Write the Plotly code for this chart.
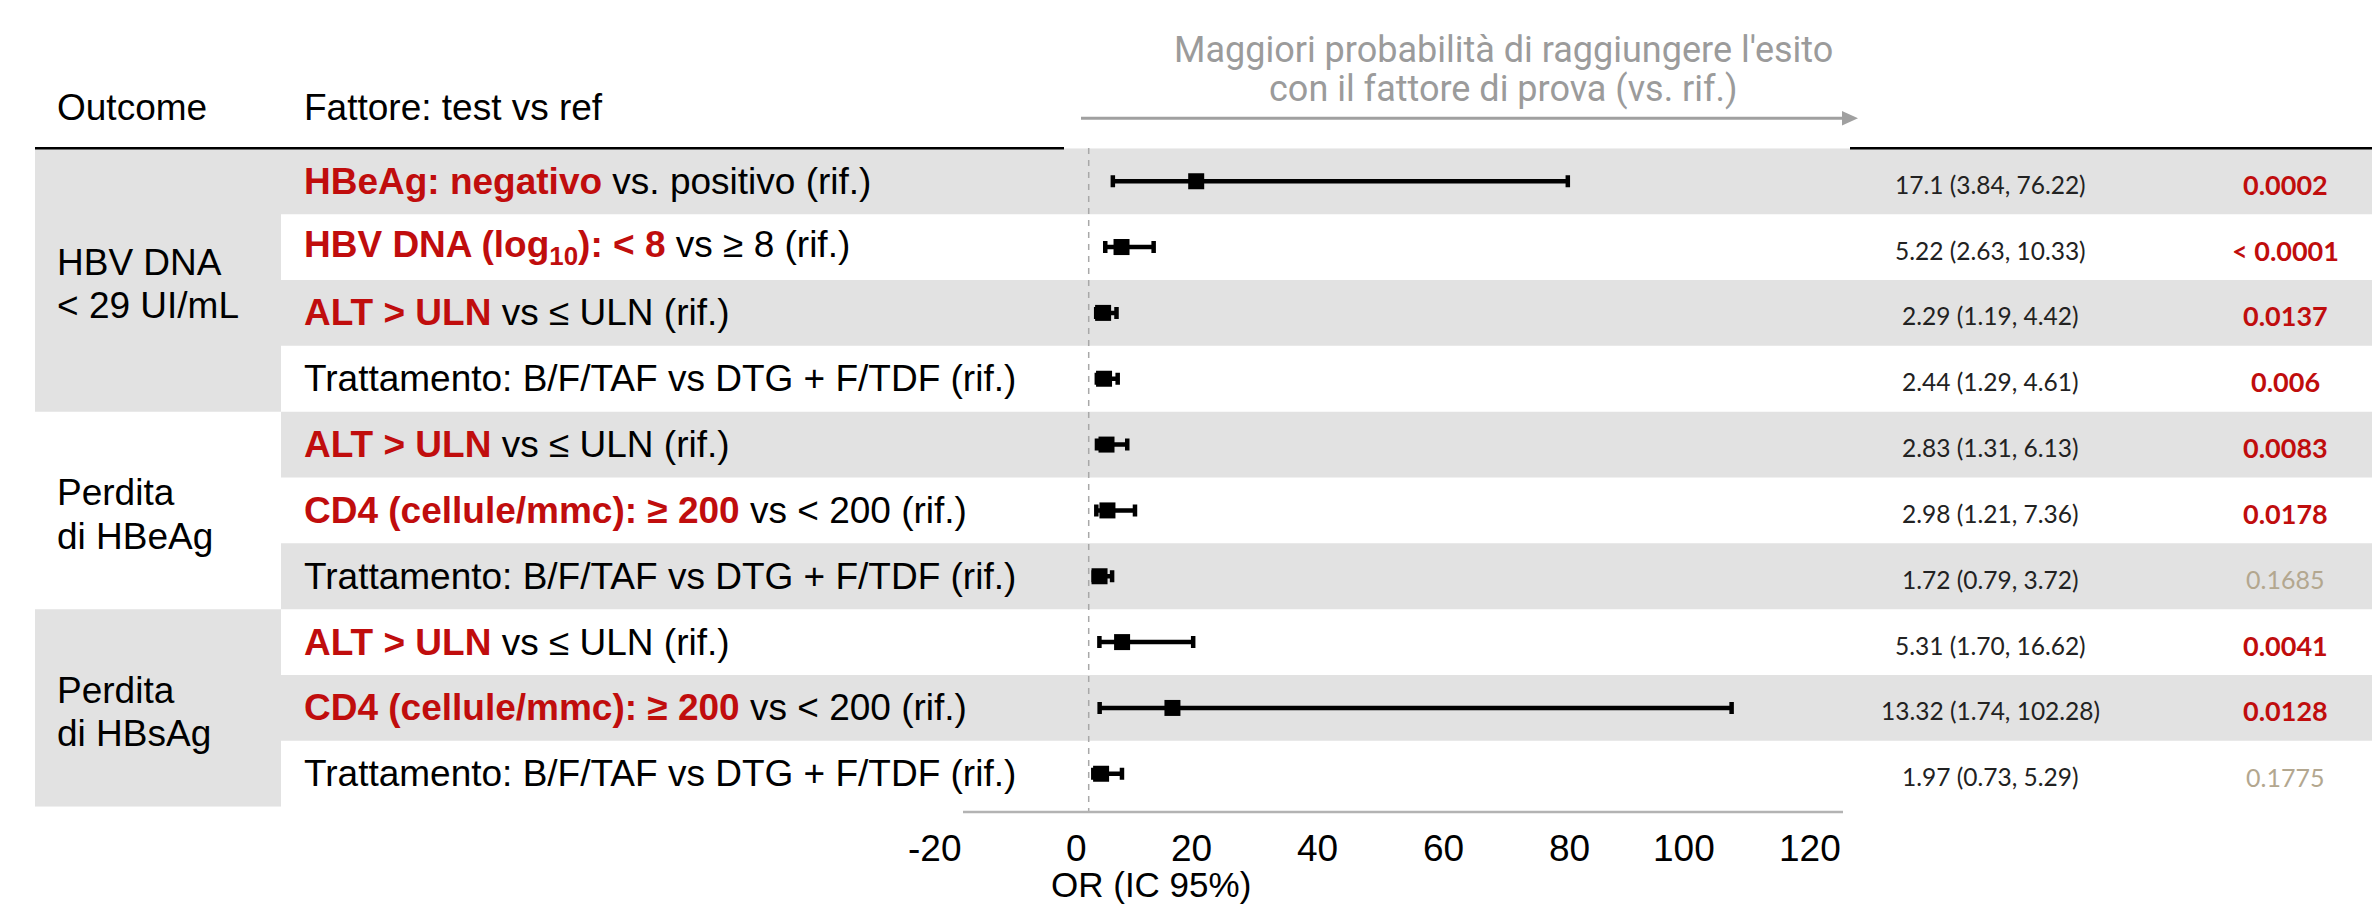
import plotly.graph_objects as go

# ---- data -------------------------------------------------------------
outcome_groups = [
    ("HBV DNA", "&lt; 29 UI/mL"),
    ("Perdita", "di HBeAg"),
    ("Perdita", "di HBsAg"),
]
group_rows = [(1, 4), (5, 7), (8, 10)]

factor_highlight = [
    "HBeAg: negativo",
    "HBV DNA (log<sub>10</sub>): &lt; 8",
    "ALT &gt; ULN",
    "",
    "ALT &gt; ULN",
    "CD4 (cellule/mmc): ≥ 200",
    "",
    "ALT &gt; ULN",
    "CD4 (cellule/mmc): ≥ 200",
    "",
]
factor_rest = [
    " vs. positivo (rif.)",
    " vs ≥ 8 (rif.)",
    " vs ≤ ULN (rif.)",
    "Trattamento: B/F/TAF vs DTG + F/TDF (rif.)",
    " vs ≤ ULN (rif.)",
    " vs &lt; 200 (rif.)",
    "Trattamento: B/F/TAF vs DTG + F/TDF (rif.)",
    " vs ≤ ULN (rif.)",
    " vs &lt; 200 (rif.)",
    "Trattamento: B/F/TAF vs DTG + F/TDF (rif.)",
]

or_vals = [17.1, 5.22, 2.29, 2.44, 2.83, 2.98, 1.72, 5.31, 13.32, 1.97]
ci_low = [3.84, 2.63, 1.19, 1.29, 1.31, 1.21, 0.79, 1.70, 1.74, 0.73]
ci_high = [76.22, 10.33, 4.42, 4.61, 6.13, 7.36, 3.72, 16.62, 102.28, 5.29]
p_text = ["0.0002", "< 0.0001", "0.0137", "0.006", "0.0083",
          "0.0178", "0.1685", "0.0041", "0.0128", "0.1775"]
p_num = [0.0002, 0.0001, 0.0137, 0.006, 0.0083,
         0.0178, 0.1685, 0.0041, 0.0128, 0.1775]

x_ticks = [-20, 0, 20, 40, 60, 80, 100, 120]

# ---- styling ----------------------------------------------------------
W, H = 2372, 907
RED = "#c00d0d"
BAND = "#e2e2e2"
GREY_TXT = "#9b9b9b"
NS_COL = "#b3a78f"
SANS = "Liberation Sans, Arial, sans-serif"
NUM_FONT = "Lato, sans-serif"
ROB = "Roboto, sans-serif"

TOP_PX, BOT_PX = 148.3, 806.7
X0_PX, X1_PX = 963, 1843
n_rows = len(or_vals)
rows = list(range(1, n_rows + 1))
row_h = (BOT_PX - TOP_PX) / n_rows


def px(x):
    return x / W


def py(y):
    return 1 - y / H


fig = go.Figure()

fig.add_trace(go.Scatter(
    x=or_vals, y=rows, mode="markers",
    marker=dict(symbol="square", size=16, color="black"),
    error_x=dict(type="data", symmetric=False,
                 array=[h - o for h, o in zip(ci_high, or_vals)],
                 arrayminus=[o - l for o, l in zip(or_vals, ci_low)],
                 thickness=4.5, width=6, color="black"),
    hoverinfo="skip",
))

shapes = []
# alternating row bands across the factor / plot / value columns
for r in rows:
    if r % 2 == 1:
        shapes.append(dict(type="rect", xref="paper", yref="y",
                           x0=px(281), x1=1, y0=r - 0.5, y1=r + 0.5,
                           fillcolor=BAND, line=dict(width=0), layer="below"))
# outcome column bands
for gi, (a, b) in enumerate(group_rows):
    if gi % 2 == 0:
        shapes.append(dict(type="rect", xref="paper", yref="y",
                           x0=px(35), x1=px(281), y0=a - 0.5, y1=b + 0.5,
                           fillcolor=BAND, line=dict(width=0), layer="below"))
# header rule
for xa, xb in [(35, 1064), (1850, W)]:
    shapes.append(dict(type="line", xref="paper", yref="paper",
                       x0=px(xa), x1=px(xb), y0=py(148.3), y1=py(148.3),
                       line=dict(color="black", width=2.5)))
# reference line at zero
shapes.append(dict(type="line", xref="x", yref="paper", x0=0, x1=0,
                   y0=py(148), y1=py(812),
                   line=dict(color="#a8a8a8", width=1.5, dash="6px,6px"),
                   layer="below"))
# axis baseline
shapes.append(dict(type="line", xref="x", yref="paper",
                   x0=x_ticks[0], x1=x_ticks[-1], y0=py(812), y1=py(812),
                   line=dict(color="#b3b3b3", width=2.5)))
# direction arrow
shapes.append(dict(type="line", xref="paper", yref="paper",
                   x0=px(1081), x1=px(1845), y0=py(118.3), y1=py(118.3),
                   line=dict(color="#a0a0a0", width=3)))
shapes.append(dict(type="path", xref="paper", yref="paper",
                   path=(f"M {px(1842)},{py(111)} L {px(1858)},{py(118.3)} "
                         f"L {px(1842)},{py(125.6)} Z"),
                   fillcolor="#a0a0a0", line=dict(width=0)))

ann = []
# column headers
ann.append(dict(text="Outcome", x=px(55), y=py(108), xanchor="left",
                yanchor="middle", font=dict(family=SANS, size=37, color="black")))
ann.append(dict(text="Fattore: test vs ref", x=px(302), y=py(108),
                xanchor="left", yanchor="middle",
                font=dict(family=SANS, size=37, color="black")))
# direction caption
ann.append(dict(text="Maggiori probabilità di raggiungere l'esito",
                x=px(1503), y=py(50), xanchor="center", yanchor="middle",
                font=dict(family=ROB, size=36, color=GREY_TXT)))
ann.append(dict(text="con il fattore di prova (vs. rif.)",
                x=px(1503), y=py(89), xanchor="center", yanchor="middle",
                font=dict(family=ROB, size=36, color=GREY_TXT)))

# outcome group labels
for (l1, l2), (a, b) in zip(outcome_groups, group_rows):
    c = (a + b) / 2 + 4 / row_h
    for txt, off in [(l1, -21.75), (l2, 21.75)]:
        ann.append(dict(text=txt, xref="paper", yref="y", x=px(55),
                        y=c + off / row_h, xanchor="left", yanchor="middle",
                        font=dict(family=SANS, size=37, color="black")))

# factor labels, OR text and p-values
for r, hl, rest, o, lo, hi, pt, pn in zip(rows, factor_highlight, factor_rest,
                                          or_vals, ci_low, ci_high, p_text, p_num):
    label = (f"<span style='color:{RED}'><b>{hl}</b></span>" if hl else "") + rest
    ann.append(dict(text=label, xref="paper", yref="y", x=px(302), y=r,
                    xanchor="left", yanchor="middle",
                    font=dict(family=SANS, size=37, color="black")))
    ann.append(dict(text=f"{o:g} ({lo:.2f}, {hi:.2f})", xref="paper", yref="y",
                    x=px(1990), y=r, yshift=-3, xanchor="center", yanchor="middle",
                    font=dict(family=NUM_FONT, size=24.5, color="#222222")))
    sig = pn < 0.05
    ptxt = pt.replace("<", "&lt;")
    ann.append(dict(text=f"<b>{ptxt}</b>" if sig else ptxt, xref="paper", yref="y",
                    x=px(2285), y=r, yshift=-3, xanchor="center", yanchor="middle",
                    font=dict(family=NUM_FONT, size=27 if sig else 25,
                              color=RED if sig else NS_COL)))

# tick labels, right-aligned on their tick
for t in x_ticks:
    ann.append(dict(text=str(t), xref="x", yref="paper", x=t, y=py(848.5),
                    xanchor="right", yanchor="middle",
                    font=dict(family=SANS, size=37, color="black")))
ann.append(dict(text="OR (IC 95%)", x=px(1151), y=py(884), xanchor="center",
                yanchor="middle", font=dict(family=SANS, size=35, color="black")))

for a in ann:
    a.setdefault("xref", "paper")
    a.setdefault("yref", "paper")
    a["showarrow"] = False

fig.update_layout(
    width=W, height=H,
    margin=dict(l=0, r=0, t=0, b=0),
    paper_bgcolor="white", plot_bgcolor="rgba(0,0,0,0)",
    showlegend=False,
    xaxis=dict(domain=[px(X0_PX), px(X1_PX)], range=[x_ticks[0], x_ticks[-1]],
               showticklabels=False, showgrid=False, zeroline=False,
               showline=False, ticks=""),
    yaxis=dict(domain=[py(BOT_PX), py(TOP_PX)], range=[n_rows + 0.5, 0.5],
               showticklabels=False, showgrid=False, zeroline=False,
               showline=False, ticks=""),
    shapes=shapes, annotations=ann,
)

fig.write_html("out.html")
